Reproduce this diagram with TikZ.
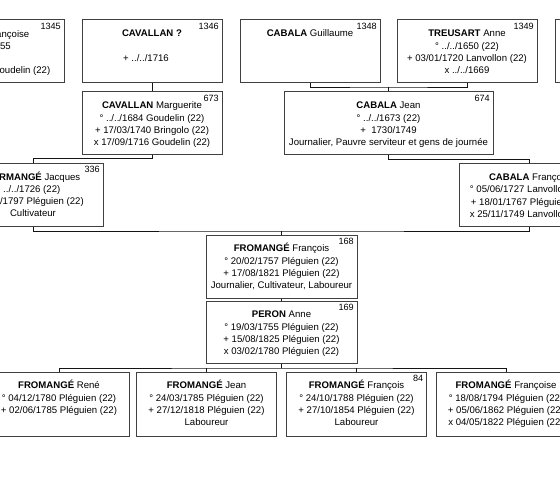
\documentclass[tikz,border=0pt]{standalone}
\usepackage{fontspec}
\setmainfont{Liberation Sans}
\usetikzlibrary{calc}
\definecolor{boxline}{RGB}{64,64,64}
\definecolor{connline}{RGB}{20,20,20}
\tikzset{
  pbox/.style={draw=boxline, line width=1pt, fill=white, inner sep=0, minimum height=63, minimum width=140},
  tline/.style={font=\fontsize{9.6}{11.4}\selectfont, inner sep=0, anchor=base, text=black},
  sosa/.style={font=\fontsize{9.1}{10}\selectfont, inner sep=0, anchor=east, text=black},
  conn/.style={draw=connline, line width=0.9pt},
}
% #1 optional xshift, #2 box name, #3 line index, #4 text
\newcommand\pl[4][0]{\node[tline] (#2l#3) at ([xshift=#1pt, yshift={-17.4pt-12.2pt*#3}]#2.north) {#4};}
\newcommand\sosanum[2]{\node[sosa] (#1n) at ([xshift=-3.5pt, yshift=-6.5pt]#1.north east) {#2};}
\begin{document}
\begin{tikzpicture}[x=1pt, y=-1pt]
\useasboundingbox (0,0) rectangle (560,500);
\fill[white] (0,0) rectangle (560,500);
\clip (0,0) rectangle (560,500);

% ---------- junction points ----------
\coordinate (m674) at (388.5,87);
\coordinate (m168) at (281.5,231);
\coordinate (m5) at (281.5,368);

% ---------- row 1 ----------
\node[pbox] (p1345) at (-6,51.5) {};
\node[pbox] (p1346) at (152,51.5) {};
\node[pbox] (p1348) at (310,51.5) {};
\node[pbox] (p1349) at (467,51.5) {};
\node[pbox] (p1350) at (625,51.5) {};

% ---------- row 2 ----------
\node[pbox] (p673) at (152,123.5) {};
\node[pbox, minimum width=209] (p674) at (388.5,123.5) {};

% ---------- row 3 ----------
\node[pbox] (p336) at (33,194.75) {};
\node[pbox] (p337) at (529,195.25) {};

% ---------- couple ----------
\node[pbox, minimum width=151] (p168) at (281.5,266.5) {};
\node[pbox, minimum width=151, minimum height=62] (p169) at (281.5,332) {};

% ---------- children ----------
\node[pbox, minimum height=64] (pRene) at (59,404) {};
\node[pbox, minimum height=64] (pJean) at (206.5,404) {};
\node[pbox, minimum height=64] (p84) at (356.5,404) {};
\node[pbox, minimum height=64] (pFrancoise) at (506,404) {};

% connectors
\draw[conn] (p1346.south) -- (p673.north);
\draw[conn] (p1348.south) |- (m674) -| (p1349.south);
\draw[conn] (m674) -- (p674.north);
\draw[conn] (p673.south) -- ++(0,3) -| (p336.north);
\draw[conn] (p674.south) -- ++(0,4) -| (p337.north);
\draw[conn] (p336.south) |- (m168) -| (p337.south);
\draw[conn] (m168) -- (p168.north);
\draw[conn] (p168.south) -- (p169.north);
\draw[conn] (p169.south) -- (m5);
\draw[conn] (pRene.north) |- (m5) -| (pFrancoise.north);
\draw[conn] (pJean.north) -- (pJean.north |- m5);
\draw[conn] (p84.north) -- (p84.north |- m5);

% ---------- texts ----------
% 1345 (partly outside)
\sosanum{p1345}{1345}
\node[tline, anchor=base east] (p1345l0) at (29.5,37.4) {ançoise};
\node[tline, anchor=base east] (p1345l1) at (11,49.6) {55};
\node[tline, anchor=base east] (p1345l3) at (50.5,74.0) {oudelin (22)};

% 1346
\sosanum{p1346}{1346}
\pl{p1346}{0}{\textbf{CAVALLAN ?}}
\pl[-6]{p1346}{2}{+ ../../1716}

% 1348
\sosanum{p1348}{1348}
\pl{p1348}{0}{\textbf{CABALA} Guillaume}

% 1349
\sosanum{p1349}{1349}
\pl{p1349}{0}{\textbf{TREUSART} Anne}
\pl{p1349}{1}{° ../../1650 (22)}
\pl{p1349}{2}{+ 03/01/1720 Lanvollon (22)}
\pl{p1349}{3}{x ../../1669}

% 673
\sosanum{p673}{673}
\pl{p673}{0}{\textbf{CAVALLAN} Marguerite}
\pl{p673}{1}{° ../../1684 Goudelin (22)}
\pl{p673}{2}{+ 17/03/1740 Bringolo (22)}
\pl{p673}{3}{x 17/09/1716 Goudelin (22)}

% 674
\sosanum{p674}{674}
\pl{p674}{0}{\textbf{CABALA} Jean}
\pl{p674}{1}{° ../../1673 (22)}
\pl{p674}{2}{+\ \ 1730/1749}
\pl{p674}{3}{Journalier, Pauvre serviteur et gens de journée}

% 336 (partly outside)
\sosanum{p336}{336}
\node[tline, anchor=base east] (p336l0) at (80.5,180.4) {\textbf{RMANGÉ} Jacques};
\node[tline, anchor=base east] (p336l1) at (60.5,192.6) {° ../../1726 (22)};
\node[tline, anchor=base east] (p336l2) at (84,204.8) {4/1797 Pléguien (22)};
\pl{p336}{3}{Cultivateur}

% 337
\pl{p337}{0}{\textbf{CABALA} François}
\pl{p337}{1}{° 05/06/1727 Lanvollon (22)}
\pl{p337}{2}{+ 18/01/1767 Pléguien (22)}
\pl{p337}{3}{x 25/11/1749 Lanvollon (22)}

% 168
\sosanum{p168}{168}
\pl{p168}{0}{\textbf{FROMANGÉ} François}
\pl{p168}{1}{° 20/02/1757 Pléguien (22)}
\pl{p168}{2}{+ 17/08/1821 Pléguien (22)}
\pl{p168}{3}{Journalier, Cultivateur, Laboureur}

% 169
\sosanum{p169}{169}
\pl{p169}{0}{\textbf{PERON} Anne}
\pl{p169}{1}{° 19/03/1755 Pléguien (22)}
\pl{p169}{2}{+ 15/08/1825 Pléguien (22)}
\pl{p169}{3}{x 03/02/1780 Pléguien (22)}

% children
\pl{pRene}{0}{\textbf{FROMANGÉ} René}
\pl{pRene}{1}{° 04/12/1780 Pléguien (22)}
\pl{pRene}{2}{+ 02/06/1785 Pléguien (22)}

\pl{pJean}{0}{\textbf{FROMANGÉ} Jean}
\pl{pJean}{1}{° 24/03/1785 Pléguien (22)}
\pl{pJean}{2}{+ 27/12/1818 Pléguien (22)}
\pl{pJean}{3}{Laboureur}

\sosanum{p84}{84}
\pl{p84}{0}{\textbf{FROMANGÉ} François}
\pl{p84}{1}{° 24/10/1788 Pléguien (22)}
\pl{p84}{2}{+ 27/10/1854 Pléguien (22)}
\pl{p84}{3}{Laboureur}

\pl{pFrancoise}{0}{\textbf{FROMANGÉ} Françoise}
\pl{pFrancoise}{1}{° 18/08/1794 Pléguien (22)}
\pl{pFrancoise}{2}{+ 05/06/1862 Pléguien (22)}
\pl{pFrancoise}{3}{x 04/05/1822 Pléguien (22)}
\end{tikzpicture}
\end{document}
